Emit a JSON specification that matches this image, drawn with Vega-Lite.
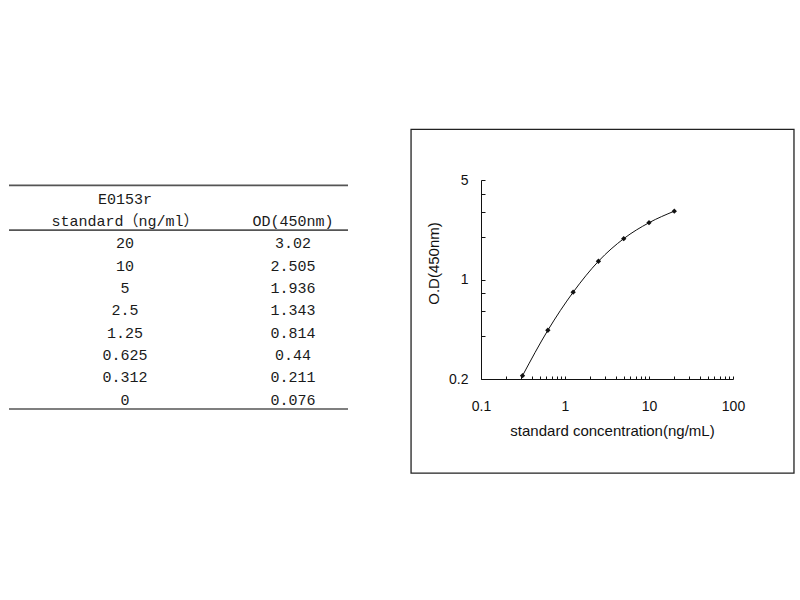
{
  "$schema": "https://vega.github.io/schema/vega-lite/v6.json",
  "description": "E0153r standard curve: table of standards and log-log OD curve.",
  "background": "white",
  "padding": {"left": 8, "top": 128, "right": 5, "bottom": 5},
  "bounds": "flush",
  "spacing": 133,
  "config": {"view": {"stroke": null}, "font": "Liberation Sans"},
  "datasets": {
    "table": [
      {"line": 0, "c1": "E0153r", "c2": ""},
      {"line": 1, "c1": "standard（ng/ml）", "c2": "OD(450nm)"},
      {"line": 2, "c1": "20", "c2": "3.02"},
      {"line": 3, "c1": "10", "c2": "2.505"},
      {"line": 4, "c1": "5", "c2": "1.936"},
      {"line": 5, "c1": "2.5", "c2": "1.343"},
      {"line": 6, "c1": "1.25", "c2": "0.814"},
      {"line": 7, "c1": "0.625", "c2": "0.44"},
      {"line": 8, "c1": "0.312", "c2": "0.211"},
      {"line": 9, "c1": "0", "c2": "0.076"}
    ],
    "curve": [
      {"conc": 20, "od": 3.02},
      {"conc": 10, "od": 2.505},
      {"conc": 5, "od": 1.936},
      {"conc": 2.5, "od": 1.343},
      {"conc": 1.25, "od": 0.814},
      {"conc": 0.625, "od": 0.44},
      {"conc": 0.312, "od": 0.211},
      {"conc": 0, "od": 0.076}
    ],
    "frame": [
      {"x1": 0.0147, "x2": 532, "y1": 0.0436, "y2": 11.35}
    ]
  },
  "hconcat": [
    {
      "width": 339,
      "height": 229,
      "data": {"name": "table"},
      "layer": [
        {
          "transform": [{"fold": ["c1", "c2"], "as": ["col", "txt"]}],
          "mark": {"type": "text", "font": "Liberation Mono, Noto Sans CJK SC", "fontSize": 15, "color": "#1a1a1a", "dy": 2},
          "encoding": {
            "x": {"field": "col", "type": "nominal", "scale": {"type": "point", "padding": 0.509, "align": 0.678}, "axis": null},
            "y": {"field": "line", "type": "ordinal", "scale": {"type": "band", "paddingInner": 0, "paddingOuter": 0.12, "align": 1}, "axis": null},
            "text": {"field": "txt"}
          }
        },
        {
          "transform": [{"filter": "datum.line == 0 || datum.line == 2"}],
          "mark": {"type": "rule", "color": "#555", "strokeWidth": 1.6},
          "encoding": {
            "y": {"field": "line", "type": "ordinal", "bandPosition": 0}
          }
        },
        {
          "transform": [{"filter": "datum.line == 9"}],
          "mark": {"type": "rule", "color": "#555", "strokeWidth": 1.6},
          "encoding": {
            "y": {"field": "line", "type": "ordinal", "bandPosition": 1}
          }
        }
      ]
    },
    {
      "width": 252,
      "height": 199,
      "layer": [
        {
          "data": {"name": "curve"},
          "transform": [{"filter": "datum.conc > 0"}],
          "mark": {
            "type": "line",
            "interpolate": "monotone",
            "color": "#111",
            "strokeWidth": 1,
            "point": {"filled": true, "shape": "diamond", "size": 28, "color": "#111"}
          },
          "encoding": {
            "x": {
              "field": "conc",
              "type": "quantitative",
              "scale": {"type": "log", "domain": [0.1, 100], "nice": false},
              "axis": {
                "values": [0.1, 0.2, 0.3, 0.4, 0.5, 0.6, 0.7, 0.8, 0.9, 1, 2, 3, 4, 5, 6, 7, 8, 9, 10, 20, 30, 40, 50, 60, 70, 80, 90, 100],
                "labelExpr": "indexof([0.1, 1, 10, 100], datum.value) >= 0 ? format(datum.value, '~g') : ''",
                "labelOverlap": false,
                "labelFlush": false,
                "labelAngle": 0,
                "labelFont": "Liberation Sans",
                "labelFontSize": 14,
                "labelColor": "#111",
                "labelPadding": 23,
                "tickSize": -3,
                "tickColor": "#111",
                "domainColor": "#111",
                "grid": false,
                "title": "standard concentration(ng/mL)",
                "titleFont": "Liberation Sans",
                "titleFontSize": 15,
                "titleFontWeight": "normal",
                "titleColor": "#111",
                "titlePadding": 10,
                "titleX": 131
              }
            },
            "y": {
              "field": "od",
              "type": "quantitative",
              "scale": {"type": "log", "domain": [0.2, 5], "nice": false},
              "axis": {
                "values": [0.2, 0.4, 0.6, 0.8, 1, 2, 3, 4, 5],
                "labelExpr": "indexof([0.2, 1, 5], datum.value) >= 0 ? format(datum.value, '~g') : ''",
                "labelOverlap": false,
                "labelFlush": false,
                "labelFont": "Liberation Sans",
                "labelFontSize": 14,
                "labelColor": "#111",
                "labelPadding": 17,
                "tickSize": -4,
                "tickColor": "#111",
                "domainColor": "#111",
                "grid": false,
                "title": "O.D(450nm)",
                "titleFont": "Liberation Sans",
                "titleFontSize": 15,
                "titleFontWeight": "normal",
                "titleColor": "#111",
                "titlePadding": 7,
                "titleY": 83
              }
            }
          }
        },
        {
          "data": {"name": "frame"},
          "mark": {"type": "rect", "fillOpacity": 0, "stroke": "#222", "strokeWidth": 1.3},
          "encoding": {
            "x": {"field": "x1", "type": "quantitative", "scale": {"type": "log", "domain": [0.1, 100], "nice": false}},
            "x2": {"field": "x2"},
            "y": {"field": "y1", "type": "quantitative", "scale": {"type": "log", "domain": [0.2, 5], "nice": false}},
            "y2": {"field": "y2"}
          }
        }
      ]
    }
  ]
}
